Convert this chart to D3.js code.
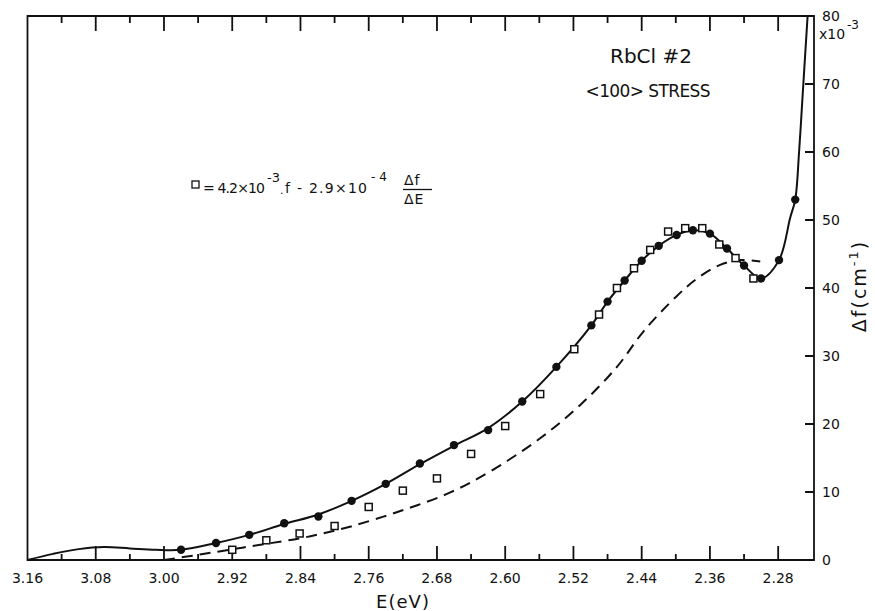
<!DOCTYPE html>
<html>
<head>
<meta charset="utf-8">
<script src="https://cdn.jsdelivr.net/npm/d3@7"></script>
</head>
<body style="margin:0">
<svg id="chart" width="875" height="611" font-family="DejaVu Sans, sans-serif"></svg>
<script>
// ---------- data ----------
const xTickValues = [3.16, 3.08, 3.00, 2.92, 2.84, 2.76, 2.68, 2.60, 2.52, 2.44, 2.36, 2.28];
const xTickLabels = ["3.16", "3.08", "3.00", "2.92", "2.84", "2.76", "2.68", "2.60", "2.52", "2.44", "2.36", "2.28"];
const xMinorValues = [3.12, 3.04, 2.96, 2.88, 2.80, 2.72, 2.64, 2.56, 2.48, 2.40, 2.32];
const yTickValues = [0, 10, 20, 30, 40, 50, 60, 70, 80];
const yTickLabels = ["0", "10", "20", "30", "40", "50", "60", "70", "80"];

// filled circles (measured Δf)
const dotE = [2.980, 2.939, 2.900, 2.859, 2.819, 2.780, 2.740, 2.700, 2.660, 2.620, 2.580, 2.540,
              2.499, 2.480, 2.460, 2.440, 2.420, 2.399, 2.380, 2.360, 2.340, 2.320, 2.300, 2.279, 2.260];
const dotF = [1.5, 2.5, 3.7, 5.4, 6.4, 8.7, 11.2, 14.2, 16.9, 19.1, 23.3, 28.4,
              34.5, 38.0, 41.1, 44.0, 46.2, 47.8, 48.5, 48.0, 45.8, 43.3, 41.4, 44.1, 53.0];

// open squares (4.2e-3 f - 2.9e-4 Δf/ΔE)
const sqE = [2.920, 2.880, 2.841, 2.800, 2.760, 2.720, 2.680, 2.640, 2.600, 2.559, 2.519,
             2.490, 2.469, 2.449, 2.430, 2.409, 2.389, 2.369, 2.349, 2.330, 2.309];
const sqF = [1.5, 2.9, 3.9, 5.0, 7.8, 10.2, 12.0, 15.6, 19.7, 24.4, 31.0,
             36.1, 40.0, 42.9, 45.6, 48.3, 48.8, 48.8, 46.4, 44.4, 41.4];

// solid curve knots
const solidE = [3.16, 3.13, 3.10, 3.07, 3.04, 3.01, 2.980, 2.939, 2.900, 2.859, 2.819, 2.780, 2.740,
                2.700, 2.660, 2.620, 2.580, 2.540, 2.499, 2.480, 2.460, 2.440, 2.420, 2.399, 2.380,
                2.360, 2.340, 2.320, 2.300, 2.279, 2.266, 2.260, 2.2555, 2.2515, 2.2485, 2.2455];
const solidF = [0, 0.9, 1.6, 1.9, 1.7, 1.5, 1.5, 2.5, 3.7, 5.3, 6.7, 8.7, 11.2,
                14.1, 16.8, 19.4, 23.3, 28.4, 34.5, 38.0, 41.1, 44.0, 46.2, 47.8, 48.5,
                48.0, 45.8, 43.3, 41.4, 44.1, 50.3, 53.0, 60.0, 68.0, 74.0, 80.0];

// dashed curve
const dashE = [3.00, 2.958, 2.919, 2.879, 2.832, 2.782, 2.723, 2.665, 2.618, 2.559, 2.512,
               2.469, 2.438, 2.399, 2.375, 2.348, 2.325, 2.301];
const dashF = [0, 0.8, 1.6, 2.4, 3.4, 4.9, 7.2, 9.9, 13.0, 17.9, 22.8,
               28.4, 33.6, 38.8, 41.4, 43.4, 44.1, 43.9];

// ---------- layout ----------
const svg = d3.select("#chart");
svg.append("rect").attr("width", 875).attr("height", 611).attr("fill", "#fff");
const mLeft = 27.5, mRight = 814, mTop = 16, mBottom = 560;
const x = d3.scaleLinear().domain([3.16, 2.238]).range([mLeft, mRight]);
const y = d3.scaleLinear().domain([0, 80]).range([mBottom, mTop]);
const ink = "#111";

// frame + all ticks in one path
const fp = d3.path();
fp.moveTo(mLeft, mTop); fp.lineTo(mRight, mTop); fp.lineTo(mRight, mBottom);
fp.lineTo(mLeft, mBottom); fp.closePath();
xTickValues.forEach(v => {
  fp.moveTo(x(v), mBottom); fp.lineTo(x(v), mBottom - 14);
  fp.moveTo(x(v), mTop); fp.lineTo(x(v), mTop + 15);
});
xMinorValues.forEach(v => {
  fp.moveTo(x(v), mBottom); fp.lineTo(x(v), mBottom - 6);
  fp.moveTo(x(v), mTop); fp.lineTo(x(v), mTop + 7);
});
yTickValues.forEach(v => {
  fp.moveTo(mRight, y(v)); fp.lineTo(mRight - 9, y(v));
});
svg.append("path").attr("d", fp.toString())
  .attr("fill", "none").attr("stroke", ink).attr("stroke-width", 1.8);

// ---------- curves ----------
const solidPts = solidE.map((e, i) => [e, solidF[i]]);
const dashPts = dashE.map((e, i) => [e, dashF[i]]);
const line = d3.line().x(d => x(d[0])).y(d => y(d[1])).curve(d3.curveCatmullRom.alpha(0.5));

svg.append("path").datum(dashPts).attr("d", line)
  .attr("fill", "none").attr("stroke", ink).attr("stroke-width", 2)
  .attr("stroke-dasharray", "11,7");
svg.append("path").datum(solidPts).attr("d", line)
  .attr("fill", "none").attr("stroke", ink).attr("stroke-width", 2);

// squares
const sqSize = 7;
svg.append("g").selectAll("rect").data(sqE.map((e, i) => [e, sqF[i]])).join("rect")
  .attr("x", d => x(d[0]) - sqSize / 2).attr("y", d => y(d[1]) - sqSize / 2)
  .attr("width", sqSize).attr("height", sqSize)
  .attr("fill", "#fff").attr("stroke", ink).attr("stroke-width", 1.5);

// dots
svg.append("g").selectAll("circle").data(dotE.map((e, i) => [e, dotF[i]])).join("circle")
  .attr("cx", d => x(d[0])).attr("cy", d => y(d[1])).attr("r", 4.2).attr("fill", ink);

// tick labels
svg.append("g").selectAll("text").data(xTickValues).join("text")
  .attr("x", d => x(d)).attr("y", 583).attr("text-anchor", "middle").attr("font-size", 14)
  .attr("fill", ink).text((d, i) => xTickLabels[i]);
svg.append("g").selectAll("text").data(yTickValues).join("text")
  .attr("x", mRight + 8).attr("y", d => y(d) + 5).attr("font-size", 14)
  .attr("fill", ink).text((d, i) => yTickLabels[i]);

// ---------- texts ----------
const T = (xx, yy, size, str) => svg.append("text").attr("x", xx).attr("y", yy)
  .attr("font-size", size).attr("fill", ink).text(str);

T(651, 63, 20, "RbCl #2").attr("text-anchor", "middle");
T(648, 97, 17, "<100> STRESS").attr("text-anchor", "middle").attr("textLength", 125);

// axis titles
T(403, 608, 18, "E(eV)").attr("text-anchor", "middle").attr("letter-spacing", 1);

const yt = svg.append("text").attr("transform", "translate(866,286) rotate(-90)")
  .attr("text-anchor", "middle").attr("font-size", 19).attr("letter-spacing", 2).attr("fill", ink);
yt.append("tspan").text("Δf(cm");
yt.append("tspan").attr("font-size", 13).attr("dy", -8).text("-1");
yt.append("tspan").attr("dy", 8).text(")");

// x10^-3
T(819, 39, 14, "x10");
T(847, 29, 12, "-3");

// legend formula
svg.append("rect").attr("x", 192).attr("y", 181).attr("width", 7).attr("height", 7)
  .attr("fill", "#fff").attr("stroke", ink).attr("stroke-width", 1.3);
T(203, 193, 14, "= 4.2×10").attr("textLength", 62).attr("lengthAdjust", "spacing");
T(267, 182, 13, "-3");
T(280, 194, 11, ".");
T(285, 193, 14, "f - 2.9×10").attr("textLength", 82).attr("lengthAdjust", "spacing");
T(371, 181, 12, "- 4");
T(404, 185, 14, "Δf").attr("letter-spacing", 1);
svg.append("line").attr("x1", 403).attr("x2", 432).attr("y1", 189.5).attr("y2", 189.5)
  .attr("stroke", ink).attr("stroke-width", 1.3);
T(404, 204, 14, "ΔE").attr("letter-spacing", 1);
</script>
</body>
</html>
